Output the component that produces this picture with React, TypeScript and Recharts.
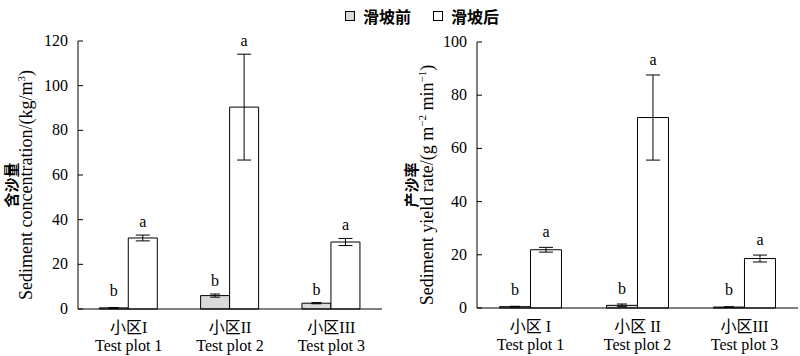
import React from 'react';
import { BarChart, Bar, XAxis, YAxis, ErrorBar, LabelList } from 'recharts';

// categories
const plotsCnLeft = ['小区I', '小区II', '小区III'];
const plotsCnRight = ['小区 I', '小区 II', '小区III'];
const plotsEn = ['Test plot 1', 'Test plot 2', 'Test plot 3'];

// sediment concentration (kg/m3)
const concBefore = [0.5, 6.0, 2.6];
const concBeforeErr = [0.15, 0.7, 0.25];
const concAfter = [31.8, 90.4, 30.0];
const concAfterErr = [1.3, 23.7, 1.6];

// sediment yield rate (g m-2 min-1)
const yieldBefore = [0.5, 1.0, 0.35];
const yieldBeforeErr = [0.15, 0.5, 0.1];
const yieldAfter = [21.9, 71.6, 18.6];
const yieldAfterErr = [0.9, 16.0, 1.3];

const sigBefore = ['b', 'b', 'b'];
const sigAfter = ['a', 'a', 'a'];

const concTicks = [0, 20, 40, 60, 80, 100, 120];
const yieldTicks = [0, 20, 40, 60, 80, 100];

const seriesNames = ['滑坡前', '滑坡后'];

const SERIF = "'Liberation Serif', 'Noto Sans CJK SC', serif";
const CJK = "'Noto Sans CJK SC', sans-serif";

const concData = plotsEn.map((p, i) => ({
  name: p,
  before: concBefore[i],
  beforeErr: concBeforeErr[i],
  after: concAfter[i],
  afterErr: concAfterErr[i],
}));

const yieldData = plotsEn.map((p, i) => ({
  name: p,
  before: yieldBefore[i],
  beforeErr: yieldBeforeErr[i],
  after: yieldAfter[i],
  afterErr: yieldAfterErr[i],
}));

const YTick = (props: any) => {
  const { x, y, payload } = props;
  return (
    <g>
      <line x1={x + 10} x2={x + 15} y1={y} y2={y} stroke="#000" />
      <text x={x} y={y} dy={5} textAnchor="end" fontSize={16} fill="#000" style={{ fontFamily: SERIF }}>
        {payload.value}
      </text>
    </g>
  );
};

const makeXTick = (cn: string[]) => (props: any) => {
  const { x, y, index } = props;
  return (
    <g>
      <text x={x} y={y + 24} textAnchor="middle" fontSize={16} fill="#000" style={{ fontFamily: SERIF }}>
        {cn[index]}
      </text>
      <text x={x} y={y + 42} textAnchor="middle" fontSize={16} fill="#000" style={{ fontFamily: SERIF }}>
        {plotsEn[index]}
      </text>
    </g>
  );
};

// significance letters sit above the error bar whisker
const makeSig = (letters: string[], vals: number[], errs: number[], pxPerUnit: number, gap: number) => (props: any) => {
  const vb = props.viewBox ?? props;
  const { x, y, width, height } = vb;
  const index = props.index;
  const base = y + height;
  const top = base - (vals[index] + errs[index]) * pxPerUnit;
  const cy = Math.min(top - gap, base - 18);
  return (
    <text x={x + width / 2} y={cy + 5} textAnchor="middle" fontSize={16} fill="#000" style={{ fontFamily: SERIF }}>
      {letters[index]}
    </text>
  );
};

const makeTitle = (cn: string, en: React.ReactNode, cnX: number, enX: number, cy: number) => () => (
  <g>
    <text
      x={cnX}
      y={cy}
      transform={`rotate(-90, ${cnX}, ${cy})`}
      textAnchor="middle"
      fontSize={15}
      fontWeight="bold"
      fill="#000"
      style={{ fontFamily: CJK }}
    >
      {cn}
    </text>
    <text
      x={enX}
      y={cy}
      transform={`rotate(-90, ${enX}, ${cy})`}
      textAnchor="middle"
      fontSize={18}
      fill="#000"
      style={{ fontFamily: SERIF }}
    >
      {en}
    </text>
  </g>
);

const concTitleEn = (
  <>
    Sediment concentration/(kg/m
    <tspan dy={-7} fontSize={11}>3</tspan>
    <tspan dy={7}>)</tspan>
  </>
);

const yieldTitleEn = (
  <>
    Sediment yield rate/(g m
    <tspan dy={-7} fontSize={11}>−2</tspan>
    <tspan dy={7}> min</tspan>
    <tspan dy={-7} fontSize={11}>−1</tspan>
    <tspan dy={7}>)</tspan>
  </>
);

const LegendBox = ({ fill }: { fill: string }) => (
  <span
    style={{
      display: 'inline-block',
      width: 8,
      height: 8,
      border: '1px solid #000',
      background: fill,
      marginRight: 8,
      verticalAlign: 'middle',
    }}
  />
);

export default function App() {
  return (
    <div style={{ position: 'absolute', left: 0, top: 0, width: 800, height: 356, background: '#fff', fontFamily: SERIF }}>
      {/* legend */}
      <div style={{ position: 'absolute', top: 1, left: 345, fontFamily: CJK, fontSize: 16, fontWeight: 'bold', color: '#000', whiteSpace: 'nowrap' }}>
        <LegendBox fill="#d9d9d9" />
        <span style={{ verticalAlign: 'middle' }}>{seriesNames[0]}</span>
        <span style={{ display: 'inline-block', width: 22 }} />
        <LegendBox fill="#fff" />
        <span style={{ verticalAlign: 'middle' }}>{seriesNames[1]}</span>
      </div>

      <div style={{ position: 'absolute', left: 0, top: 0 }}>
        <BarChart width={400} height={356} data={concData} margin={{ top: 41, right: 18, bottom: 0, left: 20 }} barCategoryGap="21%" barGap={0}>
          <XAxis dataKey="name" height={47} tickLine={false} tickSize={0} tickMargin={0} axisLine={{ stroke: '#000' }} tick={makeXTick(plotsCnLeft)} interval={0} />
          <YAxis
            width={58}
            domain={[0, 120]}
            ticks={concTicks}
            tickLine={false}
            tickSize={0}
            tickMargin={10}
            axisLine={{ stroke: '#000' }}
            tick={<YTick />}
            label={makeTitle('含沙量', concTitleEn, 17, 32, 185)}
          />
          <Bar dataKey="before" fill="#d9d9d9" stroke="#000" strokeWidth={1} isAnimationActive={false}>
            <ErrorBar dataKey="beforeErr" width={5} stroke="#000" strokeWidth={1} />
            <LabelList dataKey="before" content={makeSig(sigBefore, concBefore, concBeforeErr, 268 / 120, 13)} />
          </Bar>
          <Bar dataKey="after" fill="#fff" stroke="#000" strokeWidth={1} isAnimationActive={false}>
            <ErrorBar dataKey="afterErr" width={7} stroke="#000" strokeWidth={1} />
            <LabelList dataKey="after" content={makeSig(sigAfter, concAfter, concAfterErr, 268 / 120, 13)} />
          </Bar>
        </BarChart>
      </div>

      <div style={{ position: 'absolute', left: 400, top: 0 }}>
        <BarChart width={400} height={356} data={yieldData} margin={{ top: 42, right: 2, bottom: 0, left: 18 }} barCategoryGap="21%" barGap={0}>
          <XAxis dataKey="name" height={48} tickLine={false} tickSize={0} tickMargin={0} axisLine={{ stroke: '#000' }} tick={makeXTick(plotsCnRight)} interval={0} />
          <YAxis
            width={59}
            domain={[0, 100]}
            ticks={yieldTicks}
            tickLine={false}
            tickSize={0}
            tickMargin={10}
            axisLine={{ stroke: '#000' }}
            tick={<YTick />}
            label={makeTitle('产沙率', yieldTitleEn, 17, 33, 185)}
          />
          <Bar dataKey="before" fill="#d9d9d9" stroke="#000" strokeWidth={1} isAnimationActive={false}>
            <ErrorBar dataKey="beforeErr" width={5} stroke="#000" strokeWidth={1} />
            <LabelList dataKey="before" content={makeSig(sigBefore, yieldBefore, yieldBeforeErr, 266 / 100, 15)} />
          </Bar>
          <Bar dataKey="after" fill="#fff" stroke="#000" strokeWidth={1} isAnimationActive={false}>
            <ErrorBar dataKey="afterErr" width={7} stroke="#000" strokeWidth={1} />
            <LabelList dataKey="after" content={makeSig(sigAfter, yieldAfter, yieldAfterErr, 266 / 100, 15)} />
          </Bar>
        </BarChart>
      </div>
    </div>
  );
}
